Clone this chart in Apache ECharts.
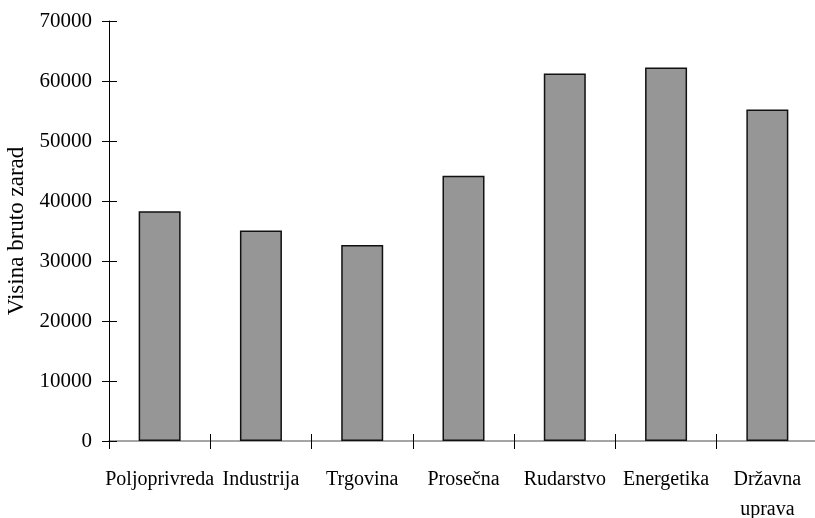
<!DOCTYPE html>
<html>
<head>
<meta charset="utf-8">
<script src="https://cdn.jsdelivr.net/npm/echarts@6/dist/echarts.min.js"></script>
<style>html,body{margin:0;padding:0;background:#fff;}#c{width:815px;height:518px;}</style>
</head>
<body>
<div id="c"></div>
<script>
const categories = ['Poljoprivreda', 'Industrija', 'Trgovina', 'Prosečna', 'Rudarstvo', 'Energetika', 'Državna\nuprava'];
const values = [38300, 35100, 32650, 44200, 61250, 62250, 55250];
const yMin = 0, yMax = 70000, yStep = 10000;
const yName = 'Visina bruto zarad';

const font = 'Liberation Serif, Times New Roman, serif';
const chart = echarts.init(document.getElementById('c'));
chart.setOption({
  backgroundColor: '#fff',
  animation: false,
  grid: { left: 109, top: 21, bottom: 77, right: -3, containLabel: false, outerBoundsMode: 'none' },
  xAxis: [{
    type: 'category', data: categories, position: 'bottom',
    axisLine: { show: true, lineStyle: { color: '#888', width: 1.5 } },
    axisTick: { show: true, alignWithLabel: false, length: 8, lineStyle: { color: '#000', width: 1 } },
    axisLabel: { color: '#000', fontFamily: font, fontSize: 20, margin: 24, lineHeight: 30, interval: 0 },
    splitLine: { show: false }
  }, {
    type: 'category', data: categories, position: 'bottom', offset: 0,
    axisLine: { show: false },
    axisTick: { show: true, inside: true, length: 7, lineStyle: { color: '#000', width: 1 } },
    axisLabel: { show: false },
    splitLine: { show: false }
  }],
  yAxis: [{
    type: 'value', min: yMin, max: yMax, interval: yStep, position: 'left',
    name: yName, nameLocation: 'middle', nameGap: 77, nameRotate: 90,
    nameTextStyle: { color: '#000', fontFamily: font, fontSize: 23 },
    axisLine: { show: true, lineStyle: { color: '#000', width: 1 } },
    axisTick: { show: true, length: 7, lineStyle: { color: '#000', width: 1 } },
    axisLabel: { color: '#000', fontFamily: font, fontSize: 21, margin: 17, formatter: v => String(v) },
    splitLine: { show: false }
  }, {
    type: 'value', min: yMin, max: yMax, interval: yStep, position: 'left', offset: 0,
    axisLine: { show: false },
    axisTick: { show: true, inside: true, length: 8, lineStyle: { color: '#000', width: 1 } },
    axisLabel: { show: false },
    splitLine: { show: false }
  }],
  series: [{
    type: 'bar', data: values, xAxisIndex: 0, yAxisIndex: 0,
    barWidth: 42,
    itemStyle: { color: '#969696', borderColor: '#111', borderWidth: 1.5 }
  }]
});
</script>
</body>
</html>
